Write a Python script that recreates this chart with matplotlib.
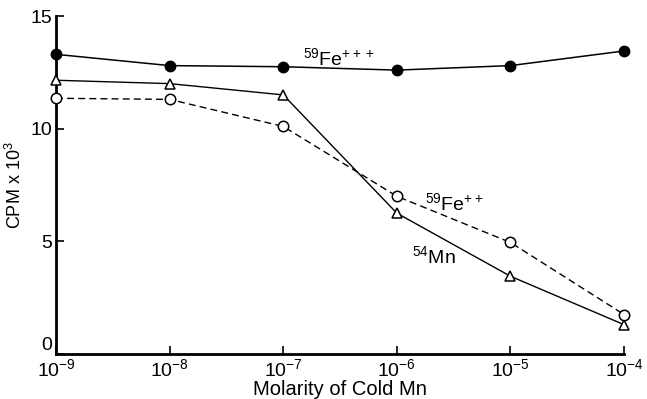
import numpy as np
import matplotlib
matplotlib.use("Agg")
import matplotlib.pyplot as plt

plt.rcParams['font.family'] = ['Liberation Sans', 'DejaVu Sans']
plt.rcParams['mathtext.default'] = 'regular'

# Данные
molarity = [1e-9, 1e-8, 1e-7, 1e-6, 1e-5, 1e-4]
fe3 = [13.3, 12.8, 12.75, 12.6, 12.8, 13.45]
mn54 = [12.15, 12.0, 11.5, 6.25, 3.45, 1.3]
fe2 = [11.35, 11.3, 10.1, 7.0, 4.95, 1.75]
xtick_labels = [r'$10^{-9}$', r'$10^{-8}$', r'$10^{-7}$', r'$10^{-6}$', r'$10^{-5}$', r'$10^{-4}$']

fig = plt.figure(figsize=(6.47, 3.99), dpi=100)
ax = fig.add_axes([0.0866, 0.1128, 0.878, 0.847])

ax.plot(molarity, fe3, '-', color='black', lw=1.1, marker='o', ms=7.5,
        mfc='black', mec='black', clip_on=False, zorder=3)
ax.plot(molarity, mn54, '-', color='black', lw=1.0, marker='^', ms=7.5,
        mfc='white', mec='black', mew=1.1, clip_on=False, zorder=3)
ax.plot(molarity, fe2, '--', color='black', lw=1.0, dashes=(5, 3), marker='o', ms=7.5,
        mfc='white', mec='black', mew=1.1, clip_on=False, zorder=3)

ax.set_xscale('log')
ax.set_xlim(1e-9, 1e-4)
ax.set_ylim(0, 15)
ax.set_xticks(molarity)
ax.set_xticklabels(xtick_labels)
ax.minorticks_off()
ax.set_yticks([0, 5, 10, 15])

for s in ['top', 'right']:
    ax.spines[s].set_visible(False)
for s in ['left', 'bottom']:
    ax.spines[s].set_linewidth(2)

ax.tick_params(axis='both', direction='in', length=6, width=1.2, labelsize=14, pad=3)
# "0" на оси Y чуть выше, как в оригинале
ax.get_yticklabels()[0].set_va('bottom')

ax.set_xlabel('Molarity of Cold Mn', fontsize=14.5, labelpad=0)
ax.set_ylabel(r'CPM x $10^{3}$', fontsize=13, labelpad=4)

ax.text(1.49e-7, 12.83, r'$^{59}$Fe$^{+++}$', fontsize=14, va='baseline')
ax.text(1.77e-6, 6.4, r'$^{59}$Fe$^{++}$', fontsize=14, va='baseline')
ax.text(1.35e-6, 4.04, r'$^{54}$Mn', fontsize=14, va='baseline')

fig.savefig('out.png', dpi=100)
